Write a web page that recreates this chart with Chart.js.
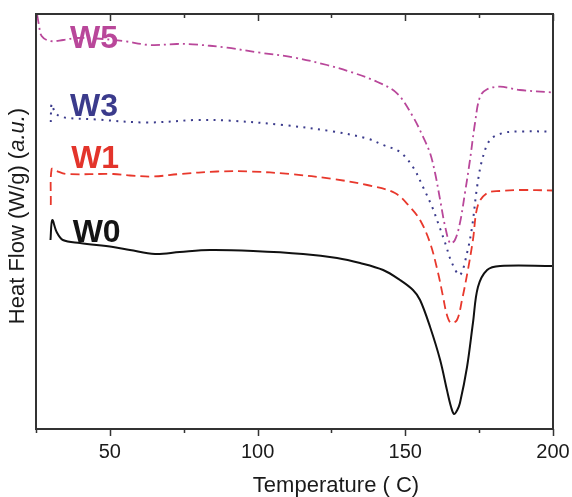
<!DOCTYPE html>
<html>
<head>
<meta charset="utf-8">
<script src="https://cdn.jsdelivr.net/npm/chart.js@4/dist/chart.umd.min.js"></script>
<style>
    html, body { margin: 0; background: #fff; }
    #dsc { display: block; }
</style>
</head>
<body>
<canvas id="dsc" width="572" height="497"></canvas>
<script>
// temperature (C) and heat flow (a.u., stacked offsets)
const w0Temp = [29.9, 30.5, 32.0, 34.1, 39.9, 51.1, 56.8, 65.3, 73.7, 83.9, 98.5, 115.4, 126.9, 134.7, 142.5, 148.2, 152.6, 155.0, 158.4, 161.8, 164.1, 165.5, 166.5, 167.6, 168.5, 170.9, 172.9, 174.6, 177.7, 182.1, 200];
const w0Flow = [189, 209, 197, 189, 186, 182, 179, 175, 177, 179, 178, 175, 171, 166, 159, 149, 139, 129, 102, 69, 39, 22, 15, 19, 26, 62, 106, 142, 159, 163, 163];

const w1Temp = [30.0, 30.3, 32.0, 35.4, 51.1, 56.8, 64.6, 73.7, 86.3, 97.4, 111.0, 125.5, 137.1, 146.5, 151.6, 155.0, 158.4, 161.1, 162.8, 164.1, 165.5, 167.5, 169.2, 171.2, 172.9, 174.6, 177.7, 182.1, 188.8, 200];
const w1Flow = [224, 260, 258, 255, 255, 253.5, 252.5, 255, 257.5, 257.5, 255, 250, 244, 236, 222, 209, 186, 156, 132, 114, 106, 109, 129, 159, 189, 224, 236, 238, 239, 238.5];

const w3Temp = [30.0, 30.3, 31.4, 33.7, 45.5, 62.5, 79.4, 89.6, 108.6, 125.5, 137.1, 142.5, 148.2, 152.6, 156.0, 159.1, 161.1, 163.5, 165.8, 168.5, 170.9, 172.6, 174.3, 176.0, 178.7, 183.1, 188.8, 200];
const w3Flow = [307, 325, 317, 312, 309.5, 306.5, 309, 308.5, 304, 297.5, 290.5, 284, 277, 262, 242, 222, 206, 186, 166, 154, 176, 202, 242, 269, 289, 296, 297.5, 297.5];

const w5Temp = [25.4, 26.0, 26.9, 29.7, 34.2, 38.8, 45.5, 54.5, 63.6, 72.7, 78.1, 89.7, 100.8, 112.0, 123.5, 131.3, 140.4, 147.2, 152.6, 156.0, 158.4, 160.1, 161.8, 163.5, 165.2, 166.8, 168.5, 170.2, 171.9, 173.6, 175.3, 177.7, 182.1, 188.8, 200];
const w5Flow = [414, 404, 393, 388, 389, 391, 390.5, 388, 384, 385, 384.7, 381.3, 376.3, 371.7, 364, 357.3, 347.3, 335.7, 312.3, 292.3, 275.7, 255.7, 229, 202.3, 185.7, 189, 206, 236, 269, 306, 332.3, 339.7, 342.3, 339, 336.5];

const seriesNames = ['W0', 'W1', 'W3', 'W5'];
const xMajorTicks = [50, 100, 150, 200];
const xMinorTicks = [25, 75, 125, 175];

const FONT = '"Liberation Sans", Arial, Helvetica, sans-serif';
const FRAME = '#333333';

const pts = (xs, ys) => xs.map((x, i) => ({ x, y: ys[i] }));

// curve labels sit at the left, next to each trace
const labelSpots = [
    { name: 'W0', color: '#141414', temp: 37.4, flow: 187 },
    { name: 'W1', color: '#e3342b', temp: 36.9, flow: 261 },
    { name: 'W3', color: '#3b3b8c', temp: 36.5, flow: 313 },
    { name: 'W5', color: '#b9479a', temp: 36.5, flow: 381 },
];

const framePlugin = {
    id: 'frame',
    afterDatasetsDraw(chart) {
        const { ctx, chartArea: a, scales: { x, y } } = chart;
        ctx.save();

        // series labels
        ctx.font = 'bold 32px ' + FONT;
        ctx.textAlign = 'left';
        ctx.textBaseline = 'alphabetic';
        labelSpots.forEach((s) => {
            ctx.fillStyle = s.color;
            ctx.fillText(s.name, x.getPixelForValue(s.temp), y.getPixelForValue(s.flow));
        });

        // box
        ctx.strokeStyle = FRAME;
        ctx.lineWidth = 2;
        ctx.strokeRect(a.left, a.top, a.right - a.left, a.bottom - a.top);

        // ticks: outward at bottom, inward at top
        ctx.lineWidth = 1.5;
        const tick = (v, len) => {
            const px = Math.round(x.getPixelForValue(v)) + 0.5;
            ctx.beginPath();
            ctx.moveTo(px, a.bottom);
            ctx.lineTo(px, a.bottom + len);
            ctx.moveTo(px, a.top);
            ctx.lineTo(px, a.top + len);
            ctx.stroke();
        };
        xMajorTicks.forEach((v) => tick(v, 7));
        xMinorTicks.forEach((v) => tick(v, 4));

        ctx.fillStyle = '#1a1a1a';
        ctx.font = '20px ' + FONT;
        ctx.textAlign = 'center';
        ctx.textBaseline = 'middle';
        xMajorTicks.forEach((v) => ctx.fillText(String(v), x.getPixelForValue(v), 452));

        // axis titles
        ctx.font = '22px ' + FONT;
        ctx.fillText('Temperature ( C)', 336, 486);

        ctx.translate(18, 216);
        ctx.rotate(-Math.PI / 2);
        const plain = 'Heat Flow (W/g) (';
        const ital = 'a.u.';
        const close = ')';
        ctx.font = '22px ' + FONT;
        const w1 = ctx.measureText(plain).width;
        const w3 = ctx.measureText(close).width;
        ctx.font = 'italic 22px ' + FONT;
        const w2 = ctx.measureText(ital).width;
        let cx = -(w1 + w2 + w3) / 2;
        ctx.textAlign = 'left';
        ctx.font = '22px ' + FONT;
        ctx.fillText(plain, cx, 0);
        cx += w1;
        ctx.font = 'italic 22px ' + FONT;
        ctx.fillText(ital, cx, 0);
        cx += w2;
        ctx.font = '22px ' + FONT;
        ctx.fillText(close, cx, 0);

        ctx.restore();
    },
};

const line = (label, xs, ys, color, dash, width) => ({
    label,
    data: pts(xs, ys),
    borderColor: color,
    borderWidth: width,
    borderDash: dash,
    borderCapStyle: 'butt',
    pointRadius: 0,
    fill: false,
    tension: 0.35,
});

new Chart(document.getElementById('dsc'), {
    type: 'line',
    data: {
        datasets: [
            line(seriesNames[3], w5Temp, w5Flow, '#b9479a', [9, 4, 2, 4], 1.8),
            line(seriesNames[2], w3Temp, w3Flow, '#3b3b8c', [2, 5.5], 2),
            line(seriesNames[1], w1Temp, w1Flow, '#e8382c', [9, 5], 1.8),
            line(seriesNames[0], w0Temp, w0Flow, '#111111', [], 2),
        ],
    },
    options: {
        responsive: false,
        animation: false,
        layout: { padding: { left: 36, top: 14, right: 19, bottom: 68 } },
        plugins: { legend: { display: false }, tooltip: { enabled: false } },
        scales: {
            x: { type: 'linear', min: 25, max: 200, display: false },
            y: { type: 'linear', min: 0, max: 415, display: false },
        },
    },
    plugins: [framePlugin],
});
</script>
</body>
</html>
